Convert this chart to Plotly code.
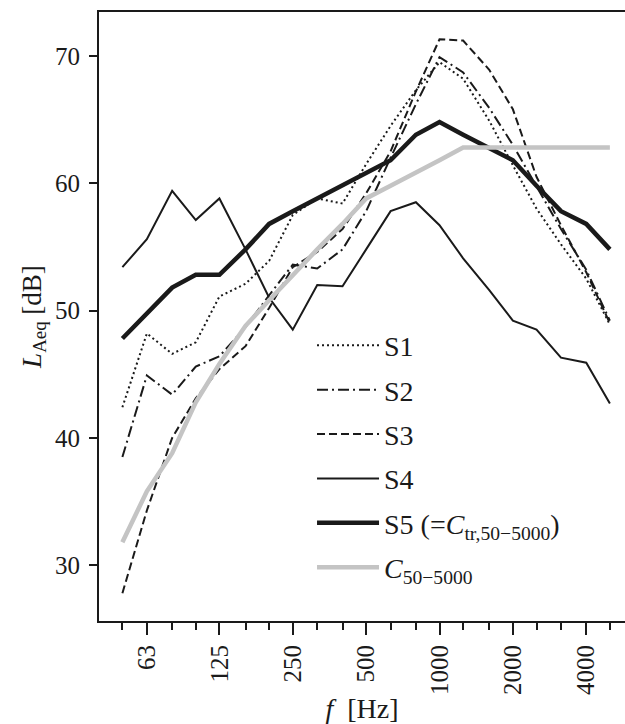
import plotly.graph_objects as go

freqs = [50, 63, 80, 100, 125, 160, 200, 250, 315, 400, 500, 630, 800,
         1000, 1250, 1600, 2000, 2500, 3150, 4000, 5000]
tick_freqs = [63, 125, 250, 500, 1000, 2000, 4000]
tick_text = ["63", "125", "250", "500", "1000", "2000", "4000"]

S1 = [42.4, 48.2, 46.6, 47.5, 51.1, 52.1, 53.9, 57.5, 58.8, 58.4, 61.5,
      64.5, 67.3, 69.5, 68.2, 64.9, 61.4, 58.0, 55.2, 52.5, 48.9]
S2 = [38.5, 44.9, 43.4, 45.6, 46.4, 48.7, 51.2, 53.6, 53.3, 54.8, 57.8,
      62.0, 66.2, 69.9, 68.7, 65.9, 63.0, 59.8, 56.4, 53.2, 49.2]
S3 = [27.8, 34.3, 40.0, 43.1, 45.4, 47.2, 50.2, 53.4, 54.6, 56.4, 59.2,
      62.5, 67.2, 71.3, 71.2, 68.9, 65.8, 60.5, 56.7, 53.0, 49.0]
S4 = [53.4, 55.6, 59.4, 57.1, 58.8, 54.8, 51.0, 48.5, 52.0, 51.9, 54.8,
      57.8, 58.5, 56.7, 54.1, 51.6, 49.2, 48.5, 46.3, 45.9, 42.7]
S5 = [47.8, 49.8, 51.8, 52.8, 52.8, 54.8, 56.8, 57.8, 58.8, 59.8, 60.8,
      61.8, 63.8, 64.8, 63.8, 62.8, 61.8, 59.8, 57.8, 56.8, 54.8]
C = [31.8, 35.8, 38.8, 42.8, 45.8, 48.8, 50.8, 52.8, 54.8, 56.8, 58.8,
     59.8, 60.8, 61.8, 62.8, 62.8, 62.8, 62.8, 62.8, 62.8, 62.8]

FONT = "Liberation Serif"
BLACK = "#1a1a1a"

series = [
    ("S1", S1, dict(color=BLACK, width=2, dash="2px,3px")),
    ("S2", S2, dict(color=BLACK, width=2, dash="11px,4px,2px,4px")),
    ("S3", S3, dict(color=BLACK, width=2, dash="8px,4px")),
    ("S4", S4, dict(color=BLACK, width=2)),
    ("S5 (=<i>C</i><sub>tr,50−5000</sub>)", S5, dict(color=BLACK, width=4.5)),
    ("<i>C</i><sub>50−5000</sub>", C, dict(color="#c4c4c4", width=4.5)),
]

fig = go.Figure()
for i, (name, vals, line) in enumerate(series):
    fig.add_trace(go.Scatter(x=freqs, y=vals, mode="lines", name=name,
                             line=line, legendgroup=f"g{i}"))

fig.update_layout(
    width=625, height=724,
    margin=dict(l=99, r=0, t=12, b=103),
    paper_bgcolor="white", plot_bgcolor="white",
    font=dict(family=FONT, size=24, color=BLACK),
    showlegend=True,
    legend=dict(x=0.405, y=0.270, xanchor="left", yanchor="middle",
                bgcolor="rgba(0,0,0,0)", font=dict(family=FONT, size=28),
                itemwidth=62, traceorder="grouped", tracegroupgap=5),
)
fig.update_xaxes(
    type="log", range=[1.603, 3.761],
    tickmode="array", tickvals=tick_freqs, ticktext=tick_text,
    tickangle=-90, ticks="outside", ticklen=12, tickwidth=2, tickcolor=BLACK,
    minor=dict(tickmode="array", tickvals=freqs, ticks="outside", ticklen=7,
               tickwidth=2, tickcolor=BLACK, showgrid=False),
    showline=True, linewidth=2, linecolor=BLACK, mirror=True,
    showgrid=False, zeroline=False,
    title=dict(text="<i>f</i>  [Hz]", font=dict(size=28), standoff=4),
    tickfont=dict(size=25),
)
fig.update_yaxes(
    range=[25.62, 73.44], tickmode="array", tickvals=[30, 40, 50, 60, 70],
    ticks="outside", ticklen=8, tickwidth=2, tickcolor=BLACK,
    showline=True, linewidth=2, linecolor=BLACK,
    showgrid=False, zeroline=False, ticklabelstandoff=4,
    title=dict(text="<i>L</i><sub>Aeq</sub> [dB]", font=dict(size=27), standoff=6),
    tickfont=dict(size=25),
)

fig.write_html("out.html")
